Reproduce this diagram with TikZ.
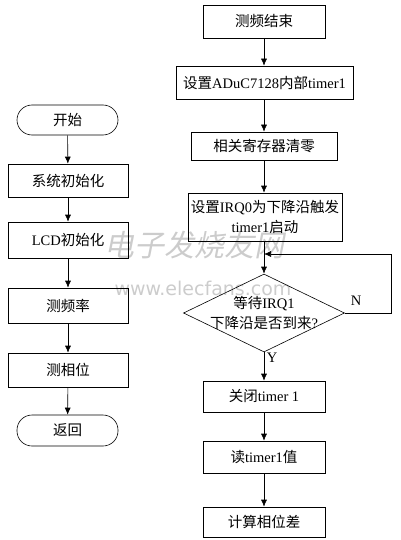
\documentclass[tikz,border=0pt]{standalone}
\usepackage{fontspec}
\setmainfont{Liberation Serif}
\newfontfamily\cjk{Noto Sans CJK SC}
\newfontfamily\wmfont{DejaVu Sans}
\newcommand{\zh}[1]{{\cjk #1}}
\usetikzlibrary{shapes.geometric,arrows.meta}
\begin{document}
\begin{tikzpicture}[x=1pt,y=-1pt,
  every node/.style={font=\fontsize{14.5}{17}\selectfont},
  box/.style={draw, line width=0.6pt, rectangle, inner sep=0pt, align=center},
  term/.style={draw, line width=0.6pt, rectangle, rounded corners=15pt, inner sep=0pt},
  flow/.style={draw, line width=0.6pt, -{Latex[length=7pt,width=6pt]}},
  lbl/.style={inner sep=0pt}]
\useasboundingbox (0,0) rectangle (400,540);
% watermark
\node[lbl, text=black!20, font=\fontsize{30}{30}\selectfont\cjk, xslant=0.2] (wm1) at (197,245) {电子发烧友网};
\node[lbl, text=black!20, font=\fontsize{19}{19}\selectfont\wmfont] (wm2) at (203,288) {www.elecfans.com};
% left column
\node[term, minimum width=101pt, minimum height=30pt] (start) at (67.5,120) {\zh{开始}};
\node[box, minimum width=120pt, minimum height=33pt] (init) at (68,180.5) {\zh{系统初始化}};
\node[box, minimum width=120pt, minimum height=36pt] (lcd) at (68,240) {LCD\zh{初始化}};
\node[box, minimum width=120pt, minimum height=35pt] (freq) at (68,305.5) {\zh{测频率}};
\node[box, minimum width=120pt, minimum height=34pt] (phase) at (68,370) {\zh{测相位}};
\node[term, minimum width=101pt, minimum height=31pt] (ret) at (67.5,430.5) {\zh{返回}};
\draw[flow] (start) -- (init);
\draw[flow] (init) -- (lcd);
\draw[flow] (lcd) -- (freq);
\draw[flow] (freq) -- (phase);
\draw[flow] (phase) -- (ret);
% right column
\node[box, minimum width=122pt, minimum height=33pt] (fend) at (264,21.5) {\zh{测频结束}};
\node[box, minimum width=177pt, minimum height=33pt] (setup) at (264.5,82.5) {\zh{设置}ADuC7128\zh{内部}timer1};
\node[box, minimum width=146pt, minimum height=28pt] (clear) at (264,146) {\zh{相关寄存器清零}};
\node[box, minimum width=154pt, minimum height=48pt, font=\fontsize{14.5}{20}\selectfont] (irq) at (265,217) {\zh{设置}IRQ0\zh{为下降沿触发}\\timer1\zh{启动}};
\node[diamond, draw, line width=0.6pt, minimum width=161pt, minimum height=78pt, aspect=2.06, inner sep=0pt] (dia) at (264,313) {};
\node[lbl, align=center, font=\fontsize{14.5}{20}\selectfont] (diat) at (dia) {\zh{等待}IRQ1\\\zh{下降沿是否到来}?};
\node[box, minimum width=122pt, minimum height=31pt] (close) at (264,396.5) {\zh{关闭}timer 1};
\node[box, minimum width=122pt, minimum height=32pt] (read) at (264,457) {\zh{读}timer1\zh{值}};
\node[box, minimum width=122pt, minimum height=30pt] (calc) at (264,522) {\zh{计算相位差}};
\coordinate (join) at (264,254);
\coordinate (rt) at (391,313);
\coordinate (rtop) at (391,254);
\draw[flow] (fend) -- (setup.north -| fend);
\draw[flow] (setup.south -| clear) -- (clear);
\draw[flow] (clear.south) -- (clear.south |- irq.north);
\draw[flow] (irq.south -| dia.north) -- (dia.north);
\draw[flow] (dia.east) -- (rt) -- (rtop) -- (join);
\draw[flow] (dia.south) -- (close);
\draw[flow] (close) -- (read);
\draw[flow] (read) -- (calc);
\node[lbl] (nlab) at (356,301) {N};
\node[lbl] (ylab) at (272,358) {Y};
\end{tikzpicture}
\end{document}
